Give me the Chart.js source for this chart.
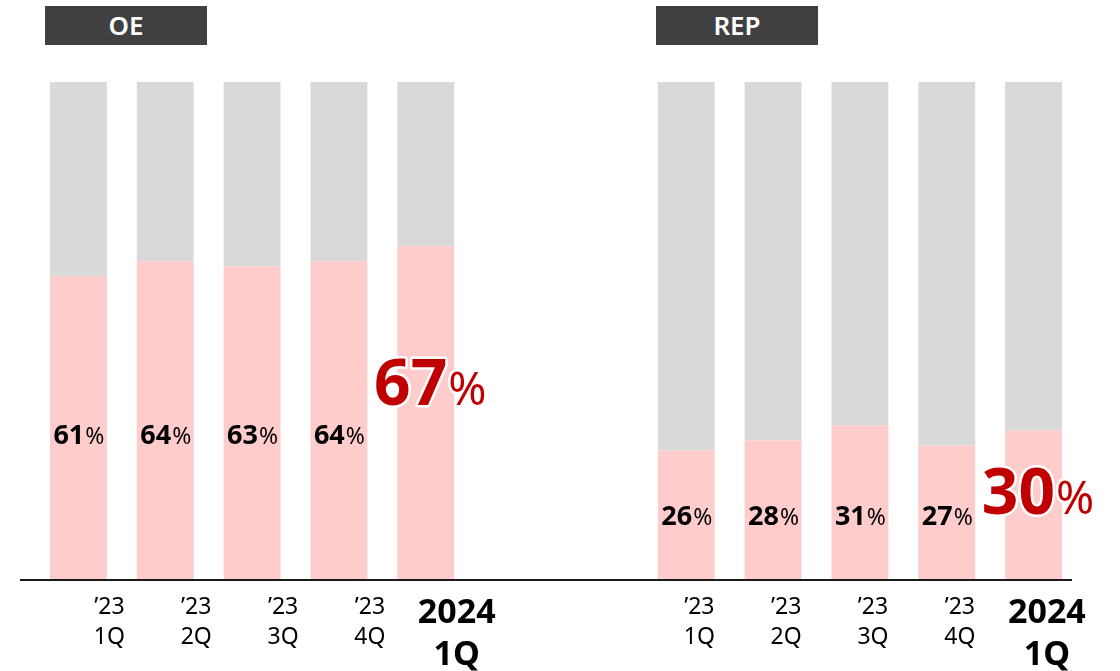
<!DOCTYPE html>
<html>
<head>
<meta charset="utf-8">
<script src="https://cdn.jsdelivr.net/npm/chart.js@4.4.1/dist/chart.umd.min.js"></script>
<style>
html,body{margin:0;padding:0;background:#fff}
#wrap{position:relative;width:1120px;height:671px;font-family:"Noto Sans",sans-serif}
canvas{position:absolute;left:0;top:0}
.hdr{position:absolute;top:6px;width:162px;height:39px;background:#404040;color:#fff;font-weight:600;font-size:26px;line-height:39px;text-align:center}
</style>
</head>
<body>
<div id="wrap">
	<canvas id="chart" width="1120" height="671"></canvas>
	<div class="hdr" style="left:45px">OE</div>
	<div class="hdr" style="left:656px">REP</div>
</div>
<script>
// share of pink segment per quarter, in %
const quarters = [['’23','1Q'],['’23','2Q'],['’23','3Q'],['’23','4Q'],['2024','1Q']]
const oeShare = [61,64,63,64,67]
const repShare = [26,28,31,27,30]

const FONT = '"Noto Sans", sans-serif'
const gap = [null,null]
// REP tick labels sit closer to their bars: pad with trailing spaces
const repQuarters = quarters.map((q,k) => q.map(s => s + ' '.repeat(k===4 ? 4 : 6)))
const labels = [...quarters, '', '', ...repQuarters]
const pink = [...oeShare, ...gap, ...repShare]
const rest = pink.map(v => v===null ? null : 100 - v)
const isLatest = i => i===4 || i===11

const shareLabels = {
	id: 'shareLabels',
	afterDatasetsDraw(chart){
		const ctx = chart.ctx, ys = chart.scales.y, area = chart.chartArea
		// baseline
		const y0 = ys.getPixelForValue(0)
		ctx.save()
		ctx.strokeStyle = '#1a1a1a'; ctx.lineWidth = 2
		ctx.beginPath(); ctx.moveTo(area.left-15, y0); ctx.lineTo(area.right-5, y0); ctx.stroke()

		const meta = chart.getDatasetMeta(0)
		pink.forEach((v,i) => {
			if(v===null) return
			const bar = meta.data[i]
			const rep = i >= 7, hl = isLatest(i)
			const anchor = hl ? (rep ? 17.9 : 39.8) : (rep ? 12.9 : 29.3)
			const yc = ys.getPixelForValue(anchor)
			const nSize = hl ? 64 : 27, pSize = hl ? 46 : 23
			const nFont = `bold ${nSize}px ${FONT}`, pFont = `${pSize}px ${FONT}`
			const num = String(v)
			ctx.font = nFont; const wn = ctx.measureText(num).width
			ctx.font = pFont; const wp = ctx.measureText('%').width
			const x = bar.x - (wn+wp)/2 + (hl ? 4 : 0)
			const yb = yc + nSize*0.36
			ctx.textBaseline = 'alphabetic'; ctx.textAlign = 'left'
			if(hl){
				ctx.strokeStyle = '#fff'; ctx.lineWidth = 5; ctx.lineJoin = 'round'
				ctx.font = nFont; ctx.strokeText(num, x, yb)
				ctx.font = pFont; ctx.strokeText('%', x+wn+1, yb)
			}
			ctx.fillStyle = hl ? '#C00000' : '#000'
			ctx.font = nFont; ctx.fillText(num, x, yb)
			ctx.font = pFont; ctx.fillText('%', x+wn+1, yb)
		})
		ctx.restore()
	}
}

new Chart(document.getElementById('chart').getContext('2d'), {
	type: 'bar',
	data: {
		labels,
		datasets: [
			{ data: pink, backgroundColor: '#FFCCCC', borderWidth: 0, barPercentage: 0.655, categoryPercentage: 1 },
			{ data: rest, backgroundColor: '#D9D9D9', borderWidth: 0, barPercentage: 0.655, categoryPercentage: 1 }
		]
	},
	options: {
		responsive: false,
		animation: false,
		layout: { padding: { left: 35, right: 43, top: 82, bottom: 0 } },
		plugins: { legend: { display: false }, tooltip: { enabled: false } },
		scales: {
			x: {
				stacked: true,
				grid: { display: false, drawTicks: false },
				border: { display: false },
				ticks: {
					autoSkip: false, maxRotation: 0, minRotation: 0,
					labelOffset: 31, padding: 13, color: '#000',
					font: c => isLatest(c.index)
						? { family: FONT, size: 34, weight: 'bold', lineHeight: 1.22 }
						: { family: FONT, size: 23, lineHeight: 1.3 }
				},
				afterFit: s => { s.height = 91 }
			},
			y: { stacked: true, display: false, min: 0, max: 100 }
		}
	},
	plugins: [shareLabels]
})
</script>
</body>
</html>
